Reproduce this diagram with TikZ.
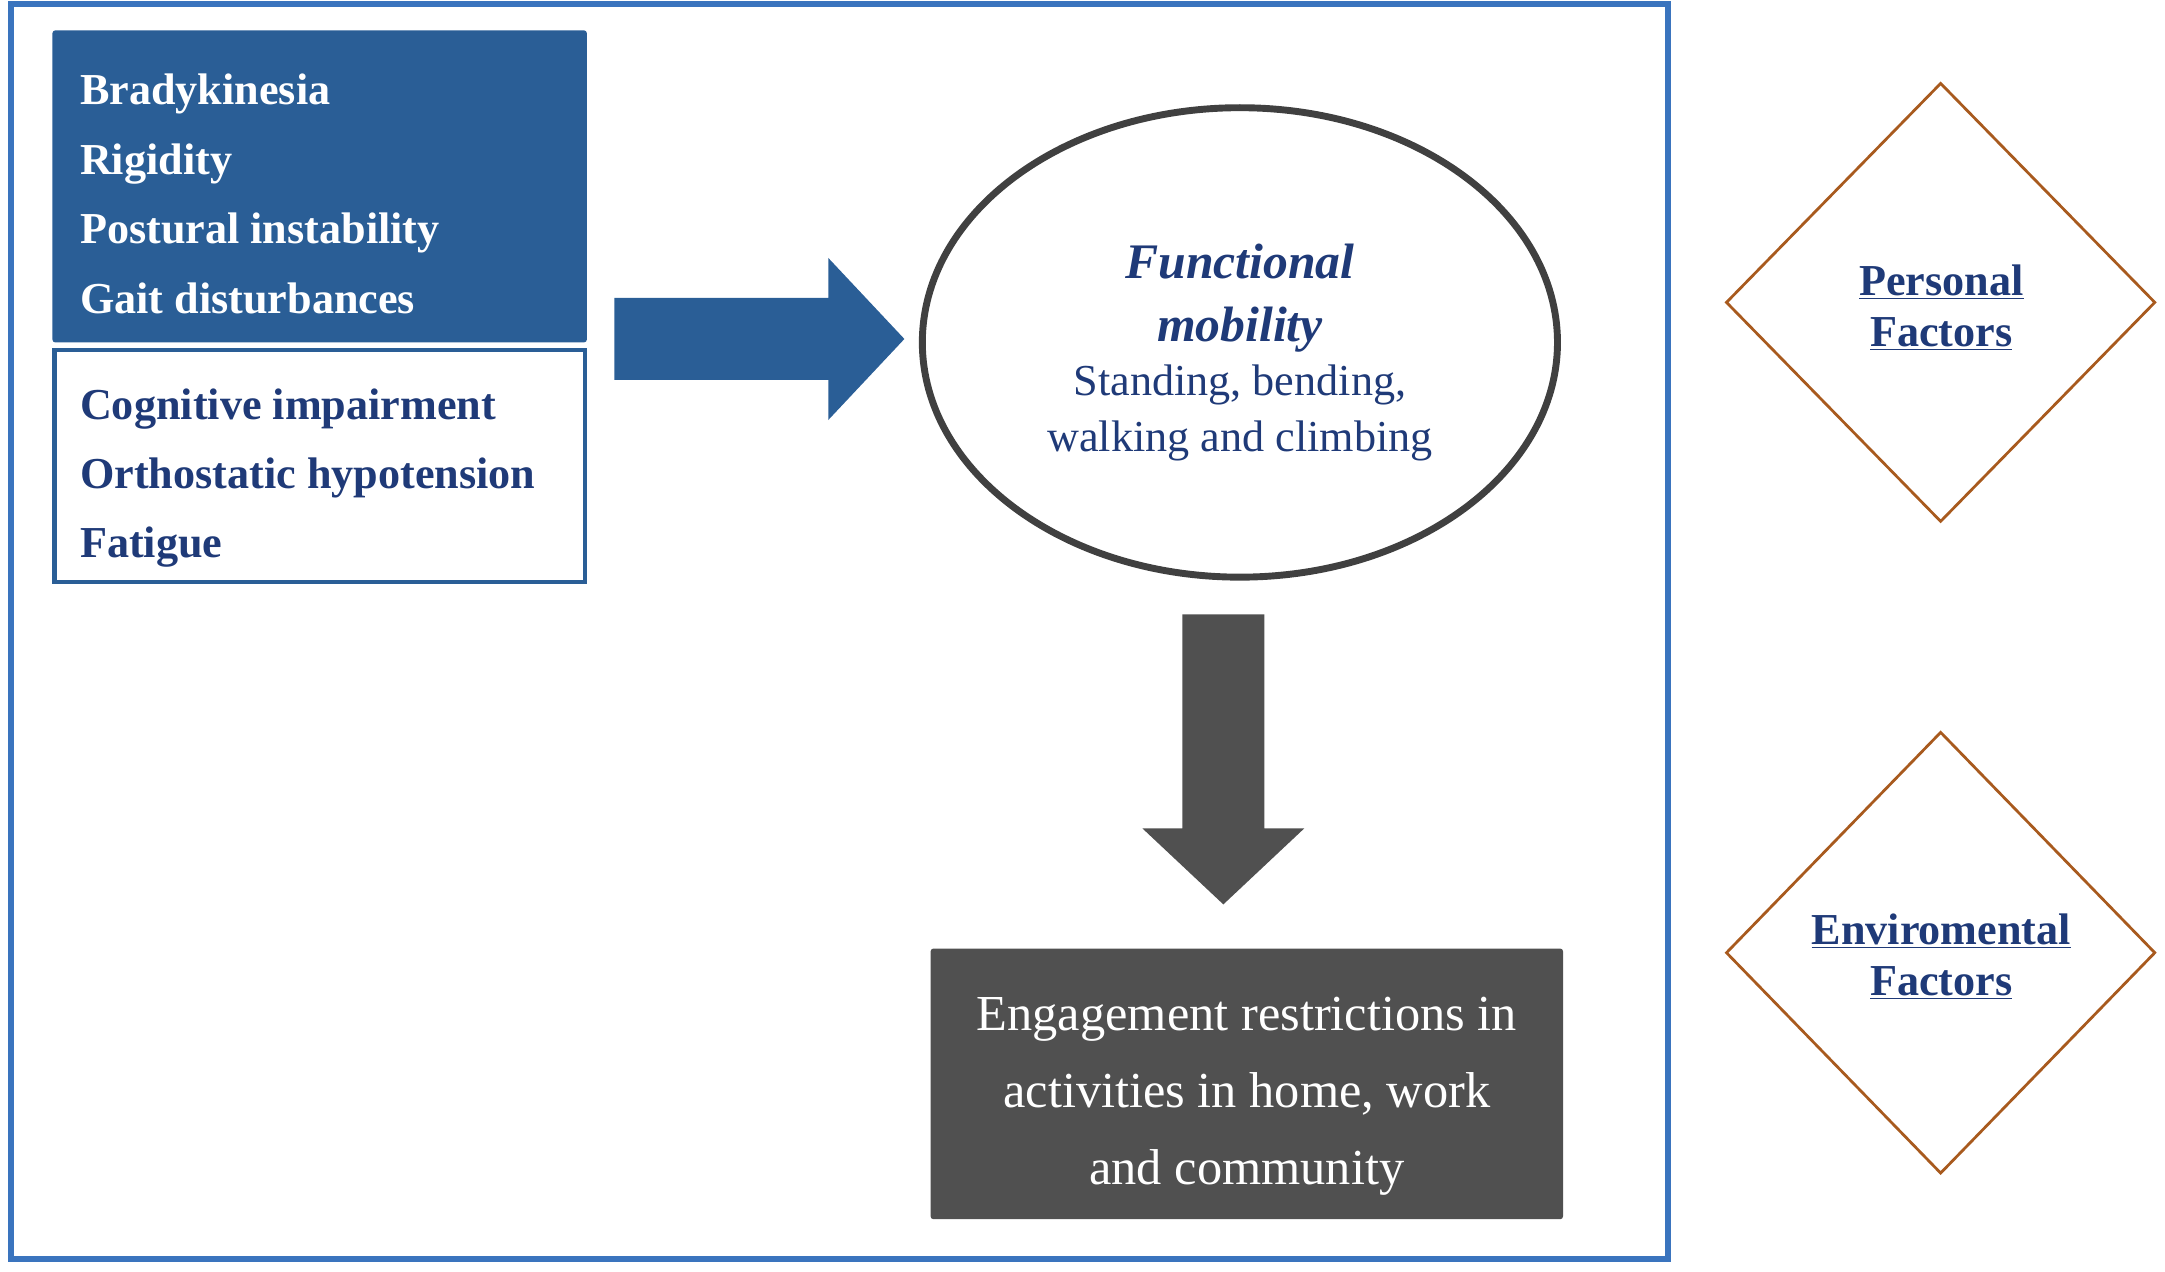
\documentclass[tikz,border=0pt]{standalone}
\usepackage{fontspec}
\setmainfont{Liberation Serif}
\usetikzlibrary{shapes.geometric,shapes.arrows}
\definecolor{boxblue}{HTML}{2A5E96}
\definecolor{frameblue}{HTML}{3A74BE}
\definecolor{navy}{HTML}{1F3A78}
\definecolor{ringgray}{HTML}{404040}
\definecolor{slategray}{HTML}{505050}
\definecolor{rust}{HTML}{A85A1E}
\begin{document}
\begin{tikzpicture}[x=1pt,y=-1pt,
  lbl/.style={inner sep=0pt, outer sep=0pt},
  fac/.style={diamond, draw=rust, line width=2pt, fill=white, inner sep=0pt, aspect=1},
  factxt/.style={lbl, anchor=north, align=center, text=navy, font=\fontsize{32}{37}\selectfont\bfseries},
  blockarrow/.style={single arrow, minimum height=210pt, minimum width=117pt,
    single arrow head extend=29pt, single arrow tip angle=93.6,
    inner xsep=0pt, inner ysep=29.5pt, outer sep=0pt, anchor=tail}
]
\useasboundingbox (0,0) rectangle (1568,921);

% outer frame
\node[draw=frameblue, line width=4pt, minimum width=1200pt, minimum height=909pt, inner sep=0pt] (frame) at (608,457.5) {};

% motor symptoms box
\node[fill=boxblue, rounded corners=2pt, minimum width=387pt, minimum height=226pt, inner sep=0pt] (motor) at (231.5,135) {};
\node[lbl, anchor=north west, align=left, text=white, font=\fontsize{32}{50.5}\selectfont\bfseries] (motortxt) at (58,53.5)
  {Bradykinesia\\Rigidity\\Postural instability\\Gait disturbances};

% non-motor box
\node[draw=boxblue, line width=3pt, fill=white, minimum width=384pt, minimum height=168pt, inner sep=0pt] (nonmotor) at (231.5,337.5) {};
\node[lbl, anchor=north west, align=left, text=navy, font=\fontsize{32}{50}\selectfont\bfseries] (nonmotortxt) at (58,281.7)
  {Cognitive impairment\\Orthostatic hypotension\\Fatigue};

% functional mobility ellipse
\node[ellipse, draw=ringgray, line width=5pt, fill=white, minimum width=460pt, minimum height=340pt, inner sep=0pt] (mob) at (898,248) {};
\node[lbl, anchor=north, align=center, text=navy, font=\fontsize{36}{45}\selectfont\bfseries\itshape] (mobtitle) at (898,177)
  {Functional\\mobility};
\node[lbl, anchor=north, align=center, text=navy, font=\fontsize{32}{40}\selectfont] (mobtxt) at (898,264.5)
  {Standing, bending,\\walking and climbing};

% block arrows
\node[blockarrow, fill=boxblue] (arrowA) at (445,245.5) {};
\node[blockarrow, fill=slategray, rotate=-90] (arrowB) at (886,445) {};

% engagement box
\node[fill=slategray, rounded corners=2pt, minimum width=458pt, minimum height=196pt, inner sep=0pt] (engage) at (903,785) {};
\node[lbl, anchor=north, align=center, text=white, font=\fontsize{36.5}{56}\selectfont] (engagetxt) at (903,722)
  {Engagement restrictions in\\activities in home, work\\and community};

% factor diamonds
\node[fac, minimum width=311pt, minimum height=318pt] (personal) at (1405.5,219) {};
\node[factxt] (personaltxt) at (1406,192) {\underline{Personal}\\\underline{Factors}};
\node[fac, minimum width=311pt, minimum height=320pt] (environ) at (1405.5,690) {};
\node[factxt] (environtxt) at (1406,662) {\underline{Enviromental}\\\underline{Factors}};
\end{tikzpicture}
\end{document}
